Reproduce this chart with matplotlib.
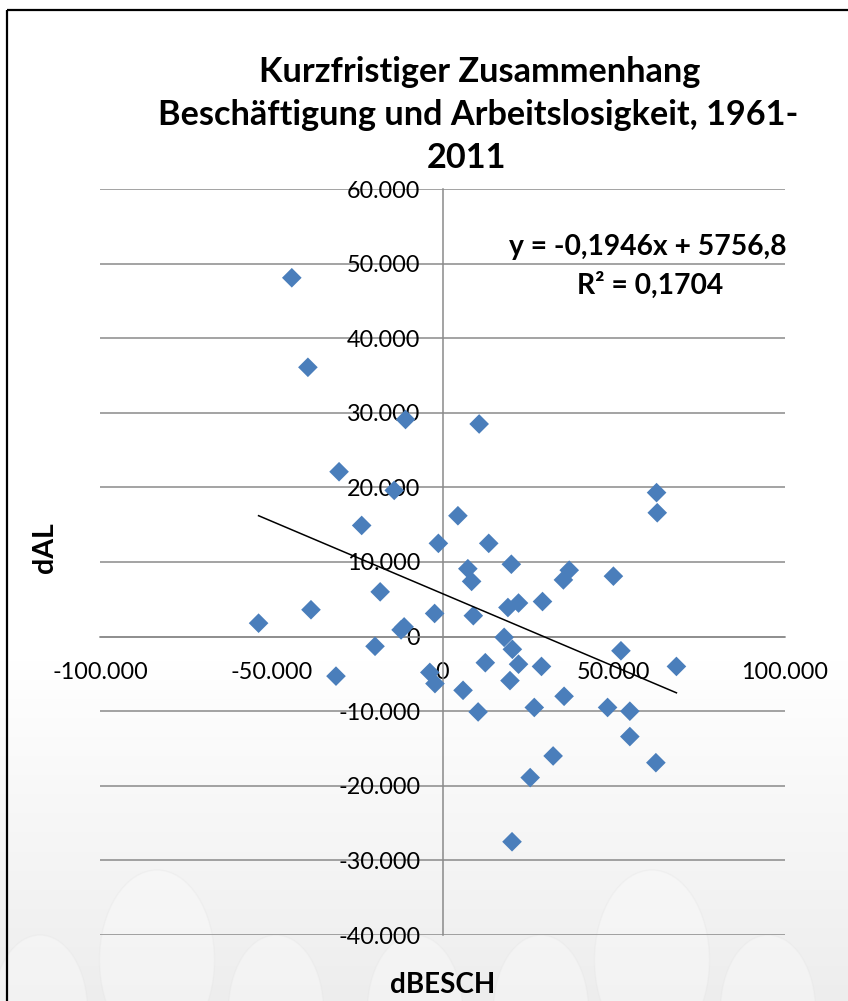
import numpy as np
import matplotlib
matplotlib.use("Agg")
import matplotlib.pyplot as plt
from matplotlib.ticker import FuncFormatter, MultipleLocator
from matplotlib.patches import Rectangle, Ellipse

# ---- data ----
dBESCH = [-44.0, -39.3, -10.8, 10.7, -30.2, -14.1, 62.5, 62.7, 4.5, -23.6,
          -1.2, 13.5, 7.4, 20.1, 8.5, 37.0, 35.3, 49.9, -18.2, -38.4,
          -53.7, -2.3, 9.0, 19.1, 22.2, 29.2, -12.1, -11.2, 18.0, 20.4,
          -19.7, 52.1, 12.5, 22.2, 28.9, 68.3, -31.1, -3.7, -2.2, 19.7,
          6.0, 35.5, 10.4, 26.8, 48.2, 54.7, 54.7, 32.3, 25.6, 62.3, 20.3]
dAL = [48.1, 36.1, 29.1, 28.5, 22.1, 19.6, 19.3, 16.6, 16.2, 14.9,
       12.5, 12.5, 9.1, 9.7, 7.4, 8.9, 7.6, 8.1, 6.0, 3.6,
       1.8, 3.1, 2.8, 3.9, 4.5, 4.7, 0.9, 1.3, -0.1, -1.7,
       -1.3, -1.9, -3.5, -3.7, -4.0, -4.0, -5.3, -4.8, -6.3, -5.9,
       -7.2, -8.0, -10.1, -9.5, -9.5, -10.0, -13.4, -16.0, -18.9, -16.9, -27.5]
dBESCH = [v * 1000 for v in dBESCH]
dAL = [v * 1000 for v in dAL]
trend_slope = -0.1946
trend_intercept = 5756.8
r_squared = "0,1704"
title_lines = ["Kurzfristiger Zusammenhang",
               "Beschäftigung und Arbeitslosigkeit, 1961-",
               "2011"]

W, H = 848, 1001
FONT = "Lato"
plt.rcParams["font.family"] = [FONT, "DejaVu Sans"]

fig = plt.figure(figsize=(W / 100, H / 100), dpi=100)
fig.patch.set_facecolor("white")

def fx(x):
    return x / W

def fy(y):
    return 1 - y / H

# ---- background gradient + faint watermark ----
bg = fig.add_axes([0, 0, 1, 1], zorder=-10)
bg.set_xlim(0, W)
bg.set_ylim(H, 0)
bg.axis("off")
grad = np.ones((H, 1))
ys = np.arange(H)
t = np.clip((ys - 660) / (H - 660), 0, 1)
grad[:, 0] = 1.0 - 0.07 * t
bg.imshow(np.dstack([grad, grad, grad]), extent=[0, W, H, 0], aspect="auto")
for cx, cy, w, h in [(157, 960, 115, 180), (652, 960, 115, 180),
                     (40, 1010, 95, 150), (276, 1010, 95, 150),
                     (415, 1010, 95, 150), (541, 1010, 95, 150),
                     (768, 1010, 95, 150)]:
    bg.add_patch(Ellipse((cx, cy), w, h, facecolor="white", alpha=0.3,
                         edgecolor="#e4e4e4", linewidth=1.0))
bg.add_patch(Rectangle((7, 10), W + 20, H + 20, fill=False, edgecolor="black", linewidth=1.6))

# ---- main axes ----
ax = fig.add_axes([fx(100), fy(935), fx(785) - fx(100), (935 - 189) / H])
ax.set_facecolor("none")
ax.set_xlim(-100000, 100000)
ax.set_ylim(-40000, 60000)
ax.xaxis.set_major_locator(MultipleLocator(50000))
ax.yaxis.set_major_locator(MultipleLocator(10000))
fmt = FuncFormatter(lambda v, p: f"{int(round(v)):,}".replace(",", "."))
ax.xaxis.set_major_formatter(fmt)
ax.yaxis.set_major_formatter(fmt)

for s in ["top", "right"]:
    ax.spines[s].set_visible(False)
ax.spines["left"].set_position("zero")
ax.spines["bottom"].set_position("zero")
for s in ["left", "bottom"]:
    ax.spines[s].set_color("#8a8a8a")
    ax.spines[s].set_linewidth(1.1)
ax.yaxis.grid(True, color="#8a8a8a", linewidth=1.1)
ax.set_axisbelow(True)
ax.tick_params(axis="y", length=0, pad=16, labelsize=16.8, labelcolor="black")
ax.tick_params(axis="x", length=0, pad=18, labelsize=16.8, labelcolor="black")

ax.scatter(dBESCH, dAL, marker="D", s=100, color="#4A7EBB",
           edgecolors="none", zorder=3)
xs = np.array([min(dBESCH), max(dBESCH)])
ax.plot(xs, trend_slope * xs + trend_intercept, color="black", linewidth=1.1, zorder=4)

# ---- texts ----
for line, xc, yb in zip(title_lines, [480, 478, 467], [82, 125, 168]):
    fig.text(fx(xc), fy(yb), line, ha="center", va="baseline",
             fontsize=24.7, fontweight="bold")
fig.text(fx(648), fy(255), f"y = {trend_slope:.4f}x + {trend_intercept:.1f}".replace(".", ","),
         ha="center", va="baseline", fontsize=20.3, fontweight="bold")
fig.text(fx(650), fy(294), f"R² = {r_squared}", ha="center", va="baseline",
         fontsize=20.3, fontweight="bold")
fig.text(fx(45), fy(548), "dAL", rotation=90, ha="center", va="center",
         fontsize=20.5, fontweight="bold")
fig.text(fx(443), fy(985), "dBESCH", ha="center", va="center",
         fontsize=20, fontweight="bold")

fig.savefig("out.png", dpi=100)
